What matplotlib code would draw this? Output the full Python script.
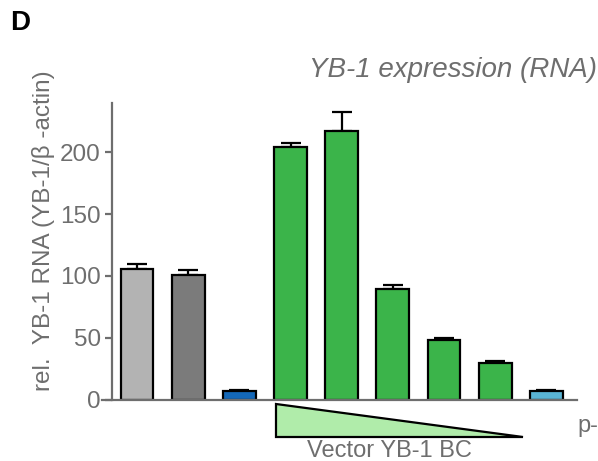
import matplotlib.pyplot as plt
from matplotlib.patches import Polygon
import matplotlib.transforms as mtransforms

plt.rcParams['font.family'] = ['Liberation Sans', 'DejaVu Sans']

# bar values (rel. YB-1 RNA)
samples = ["ctrl1", "ctrl2", "siYB-1", "v1", "v2", "v3", "v4", "v5", "p-"]
values = [106, 100.5, 7, 204, 217, 89.5, 48, 29.5, 7]
errors = [3.8, 4.0, 0.8, 4.0, 16.0, 3.2, 1.8, 1.8, 0.8]
colors = ["#b3b3b3", "#7b7b7b", "#1468b8", "#3bb44a", "#3bb44a",
          "#3bb44a", "#3bb44a", "#3bb44a", "#5ab4d4"]
yticks = [0, 50, 100, 150, 200]

gray = "#6e6e6e"

fig = plt.figure(figsize=(5.98, 4.61), dpi=100)
ax = fig.add_axes([0.1706, 0.1334, 0.7943, 0.6432])

x = list(range(len(values)))
ax.bar(x, values, width=0.64, color=colors, edgecolor="black", linewidth=1.6, zorder=2)
ax.errorbar(x, values, yerr=[[0] * len(errors), errors], fmt="none",
            ecolor="black", elinewidth=1.6, capsize=7, capthick=1.6, zorder=1)

ax.set_xlim(-0.684, 8.60)
ax.set_ylim(0, 240)
ax.set_yticks(yticks)
ax.set_xticks([])

for side in ["top", "right"]:
    ax.spines[side].set_visible(False)
ax.spines["left"].set_position(("data", -0.489))
ax.spines["left"].set_color(gray)
ax.spines["bottom"].set_color(gray)
ax.spines["left"].set_linewidth(1.6)
ax.spines["bottom"].set_linewidth(1.6)
ax.tick_params(axis="y", colors=gray, labelsize=17.5, width=1.6, length=5, pad=3)

ax.set_ylabel("rel.  YB-1 RNA (YB-1/\u03b2 -actin)", color=gray, fontsize=17.5)
ax.yaxis.set_label_coords(-0.10, 0.57)

# dose triangle under the vector bars
trans = mtransforms.blended_transform_factory(ax.transData, ax.transAxes)
tri = Polygon([[2.72, -0.016], [2.72, -0.127], [7.55, -0.127]], closed=True,
              facecolor="#b0ecaa", edgecolor="black", linewidth=1.6,
              transform=trans, clip_on=False)
ax.add_patch(tri)
ax.text(4.93, -0.172, "Vector YB-1 BC", transform=trans, ha="center", va="center",
        color=gray, fontsize=17)
ax.text(8.6, -0.09, "p-", transform=trans, ha="left", va="center",
        color=gray, fontsize=17)

fig.text(0.998, 0.848, "YB-1 expression (RNA)", ha="right", va="center",
         color=gray, fontsize=20, style="italic")
fig.text(0.017, 0.95, "D", ha="left", va="center", fontsize=20, fontweight="bold")

fig.savefig("out.png", dpi=100)
